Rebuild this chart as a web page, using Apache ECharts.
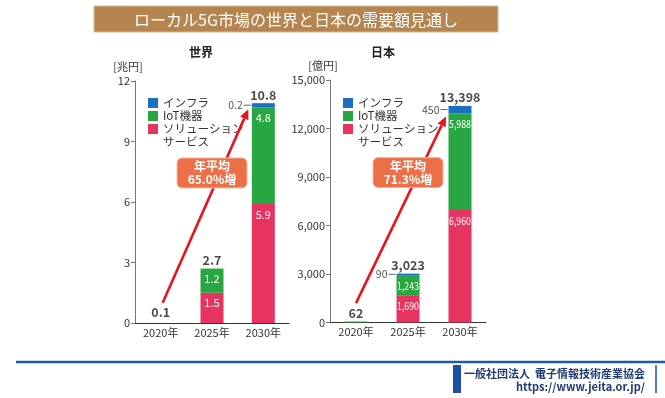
<!DOCTYPE html>
<html><head><meta charset="utf-8">
<script src="https://cdn.jsdelivr.net/npm/echarts@6/dist/echarts.min.js"></script>
<style>html,body{margin:0;padding:0;background:#fff}#c{width:665px;height:398px}</style>
</head><body><div id="c"></div>
<script>
// ---- data ----
const years = ['2020年', '2025年', '2030年'];
const worldSolution = [0, 1.5, 5.9];
const worldIoT = [0, 1.2, 4.8];
const worldInfra = [0, 0, 0.2];
const worldTotalsNum = [0.1, 2.7, 10.8];
const worldTotals = ['0.1', '2.7', '10.8'];
const japanSolution = [0, 1690, 6960];
const japanIoT = [62, 1243, 5988];
const japanInfra = [0, 90, 450];
const japanTotalsNum = [62, 3023, 13398];
const japanTotals = ['62', '3,023', '13,398'];
const worldAxis = { min: 0, max: 12, interval: 3 };
const japanAxis = { min: 0, max: 15000, interval: 3000 };
const seriesNames = ['インフラ', 'IoT機器', 'ソリューションサービス'];
const growthWorld = '年平均\n65.0%増';
const growthJapan = '年平均\n71.3%増';

// ---- styles ----
const FONT = "'Noto Sans CJK JP', 'Noto Sans', sans-serif";
const C_INFRA = '#1a6fc0', C_IOT = '#28a641', C_SOL = '#e6335f';
const fmt = v => Number(v).toLocaleString('en-US');

function barSeries(name, data, color, grid, pos) {
  const isInfra = pos === 'left';
  return {
    type: 'bar', name, data, stack: 's' + grid, xAxisIndex: grid, yAxisIndex: grid,
    barWidth: 23, itemStyle: { color }, silent: true,
    label: isInfra ? {
      show: true, position: 'left', distance: 1,
      formatter: p => p.value > 0 ? '{t|' + fmt(p.value) + '}{d|}' : '',
      rich: { t: { color: '#555', fontSize: 10.5, fontFamily: FONT, padding: [0, 1, 0, 0] },
              d: { width: 7, height: 1, backgroundColor: '#666' } }
    } : { show: false }
  };
}
// white in-bar labels, placed through the axes (condensed like the original)
function insideLabels(grid, segs, ax) {
  const pts = [];
  years.forEach((y, i) => {
    let acc = 0;
    segs.forEach((s, k) => {
      if (k < segs.length - 1 && s[i] / ax.max > 0.04) pts.push([i, acc + s[i], fmt(s[i])]);
      acc += s[i];
    });
  });
  return {
    type: 'custom', xAxisIndex: grid, yAxisIndex: grid, silent: true, z: 5,
    data: pts.map(p => [p[0], p[1]]),
    renderItem: (params, api) => {
      const c = api.coord([api.value(0), api.value(1)]);
      return { type: 'text', x: c[0], y: c[1] + 5, scaleX: grid === 0 ? 1 : 0.8,
        style: { text: pts[params.dataIndex][2], fill: '#fff', fontSize: 11, fontFamily: FONT,
          align: 'center', verticalAlign: 'top' } };
    }
  };
}
function totalSeries(grid, segs, labels, nums) {
  return {
    type: 'scatter', xAxisIndex: grid, yAxisIndex: grid, symbolSize: 0, silent: true,
    data: years.map((y, i) => [y, segs.reduce((a, s) => a + s[i], 0) || nums[i]]),
    label: { show: true, position: 'top', distance: 2, color: '#1a1a1a', fontSize: 12.5, fontWeight: 'bold', fontFamily: FONT,
      formatter: p => labels[p.dataIndex] }
  };
}
function legendAt(left) {
  return { orient: 'vertical', left, top: 96.5, padding: 0, itemWidth: 10, itemHeight: 10, itemGap: 0, icon: 'rect',
    data: seriesNames, selectedMode: false,
    formatter: n => n === seriesNames[2] ? 'ソリューション' : n,
    textStyle: { fontSize: 11.5, color: '#333', fontFamily: FONT, lineHeight: 13 } };
}
function yAx(grid, ax, unit, labelFmt) {
  return {
    type: 'value', gridIndex: grid, min: ax.min, max: ax.max, interval: ax.interval,
    name: unit, nameGap: 9, nameTextStyle: { color: '#333', fontSize: 11, fontFamily: FONT, align: 'center', padding: [0, 14, 0, 0] },
    axisLine: { show: true, lineStyle: { color: '#777' } },
    axisTick: { show: true, length: 4, lineStyle: { color: '#777' } },
    splitLine: { show: false },
    axisLabel: { color: '#333', fontSize: 11, fontFamily: FONT, margin: 5, formatter: labelFmt }
  };
}
function xAx(grid) {
  return {
    type: 'category', gridIndex: grid, data: years,
    axisLine: { lineStyle: { color: '#333' } }, axisTick: { show: false },
    axisLabel: { color: '#333', fontSize: 11, fontFamily: FONT, margin: 4 }
  };
}

const option = {
  animation: false,
  textStyle: { fontFamily: FONT },
  grid: [
    { left: 135, top: 81, width: 154, height: 242 },
    { left: 330, top: 80, width: 156, height: 242.5 }
  ],
  xAxis: [xAx(0), xAx(1)],
  yAxis: [yAx(0, worldAxis, '[兆円]', v => v), yAx(1, japanAxis, '[億円]', v => fmt(v))],
  legend: [legendAt(148), legendAt(343)],
  series: [
    barSeries(seriesNames[2], worldSolution, C_SOL, 0, 'in'),
    barSeries(seriesNames[1], worldIoT, C_IOT, 0, 'in'),
    barSeries(seriesNames[0], worldInfra, C_INFRA, 0, 'left'),
    insideLabels(0, [worldSolution, worldIoT, worldInfra], worldAxis),
    totalSeries(0, [worldSolution, worldIoT, worldInfra], worldTotals, worldTotalsNum),
    barSeries(seriesNames[2], japanSolution, C_SOL, 1, 'in'),
    barSeries(seriesNames[1], japanIoT, C_IOT, 1, 'in'),
    barSeries(seriesNames[0], japanInfra, C_INFRA, 1, 'left'),
    insideLabels(1, [japanSolution, japanIoT, japanInfra], japanAxis),
    totalSeries(1, [japanSolution, japanIoT, japanInfra], japanTotals, japanTotalsNum)
  ]
};

const chart = echarts.init(document.getElementById('c'), null, { renderer: 'canvas' });
chart.setOption(option);

// ---- annotations built from axis coordinates ----
function px(g, cat, val) { return chart.convertToPixel({ gridIndex: g }, [cat, val]); }
function arrow(id, s, e) {
  const dx = e[0] - s[0], dy = e[1] - s[1], L = Math.hypot(dx, dy);
  const ux = dx / L, uy = dy / L, hl = 10, hw = 4.5;
  const bx = e[0] - ux * hl, by = e[1] - uy * hl;
  return [
    { type: 'line', id: id + 'l', z: 10, shape: { x1: s[0], y1: s[1], x2: bx, y2: by },
      style: { stroke: '#e8141c', lineWidth: 2.6 } },
    { type: 'polygon', id: id + 'h', z: 10,
      shape: { points: [[e[0], e[1]], [bx - uy * hw, by + ux * hw], [bx + uy * hw, by - ux * hw]] },
      style: { fill: '#e8141c' } }
  ];
}
function callout(id, c, text) {
  return [
    { type: 'rect', id: id + 'r', z: 20, shape: { x: c[0] - 35, y: c[1] - 15, width: 70, height: 30, r: 5 },
      style: { fill: '#ec6f47', stroke: '#f5b9a3', lineWidth: 1 } },
    { type: 'text', id: id + 't', z: 21, x: c[0], y: c[1],
      style: { text, fill: '#fff', fontSize: 12, fontWeight: 'bold', lineHeight: 13, fontFamily: FONT,
        align: 'center', verticalAlign: 'middle' } }
  ];
}
const wS = px(0, years[0], 1.0), wE = px(0, years[2], 10.6);
const jS = px(1, years[0], 1200), jE = px(1, years[2], 12750);
const wC = px(0, years[1], 7.44), jC = px(1, years[1], 9275);
const svc = (l) => ({ type: 'text', x: l + 15, y: 142,
  style: { text: 'サービス', fill: '#333', fontSize: 11.5, fontFamily: FONT, align: 'left', verticalAlign: 'middle' } });

const graphics = [
  { type: 'rect', id: 'tb', shape: { x: 94, y: 6, width: 404, height: 26 },
    style: { fill: '#b5844f', stroke: '#d8b98f', lineWidth: 1 } },
  { type: 'text', id: 'tt', x: 296, y: 19.5,
    style: { text: 'ローカル5G市場の世界と日本の需要額見通し', fill: '#fff', fontSize: 16, fontFamily: FONT,
      align: 'center', verticalAlign: 'middle' } },
  { type: 'text', id: 'h1', x: 201, y: 52,
    style: { text: '世界', fill: '#222', fontSize: 12, fontWeight: 'bold', fontFamily: FONT, align: 'center', verticalAlign: 'middle' } },
  { type: 'text', id: 'h2', x: 383, y: 52,
    style: { text: '日本', fill: '#222', fontSize: 12, fontWeight: 'bold', fontFamily: FONT, align: 'center', verticalAlign: 'middle' } },
  Object.assign(svc(148), { id: 's1' }),
  Object.assign(svc(343), { id: 's2' }),
  ...arrow('a1', [wS[0] + 2, wS[1]], [wE[0] - 15, wE[1]]),
  ...arrow('a2', [jS[0], jS[1]], [jE[0] - 14, jE[1]]),
  ...callout('c1', wC, growthWorld),
  ...callout('c2', jC, growthJapan),
  { type: 'line', id: 'fl', shape: { x1: 16, y1: 362, x2: 665, y2: 362 }, style: { stroke: '#1d5aa6', lineWidth: 2.5 } },
  { type: 'rect', id: 'fb', shape: { x: 453, y: 365, width: 8, height: 28 }, style: { fill: '#1d4fa0' } },
  { type: 'line', id: 'fv', shape: { x1: 656, y1: 365, x2: 656, y2: 393 }, style: { stroke: '#1d4fa0', lineWidth: 1.5 } },
  { type: 'text', id: 'f1', x: 645, y: 374,
    style: { text: '一般社団法人  電子情報技術産業協会', fill: '#1e3a78', fontSize: 11, fontWeight: 'bold', fontFamily: FONT, align: 'right', verticalAlign: 'middle' } },
  { type: 'text', id: 'f2', x: 645, y: 386.5,
    style: { text: 'https://www.jeita.or.jp/', fill: '#1e3a78', fontSize: 11, fontWeight: 'bold', fontFamily: FONT, align: 'right', verticalAlign: 'middle' } }
];
chart.setOption({ graphic: graphics });
</script>
</body></html>
